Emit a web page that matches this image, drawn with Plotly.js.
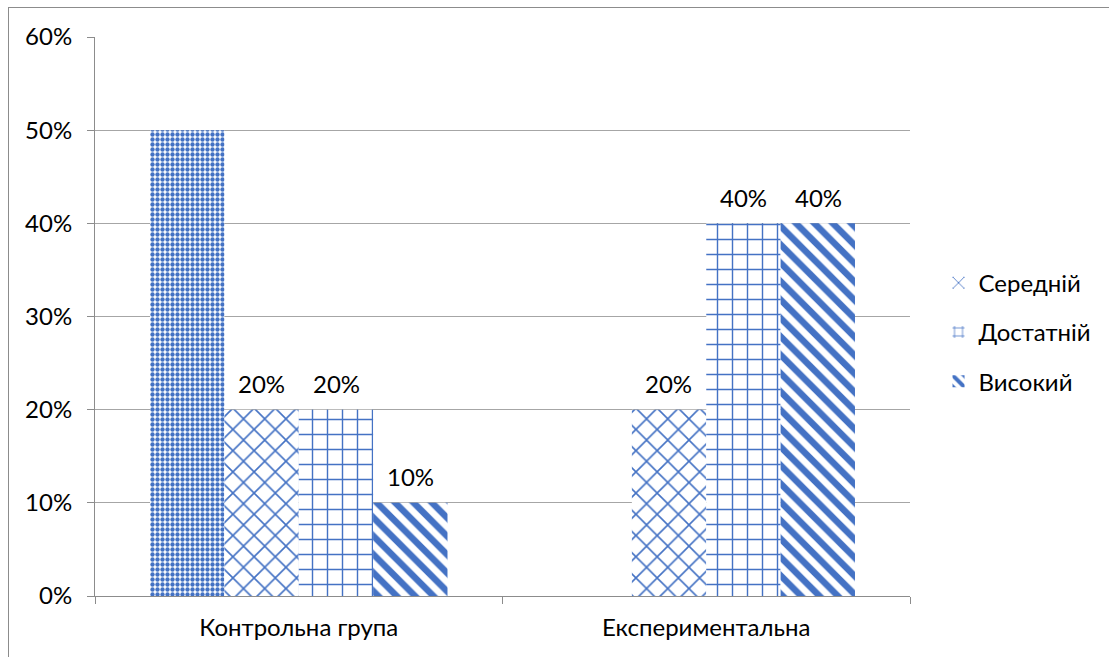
<!DOCTYPE html>
<html><head><meta charset="utf-8">
<script src="https://cdn.plot.ly/plotly-3.0.1.min.js"></script>
<style>
html,body{margin:0;padding:0;background:#fff;}
#frame{position:absolute;left:8px;top:7px;width:1300px;height:900px;border-left:1px solid #8c8c8c;border-top:1px solid #8c8c8c;pointer-events:none;z-index:10;}
#chart{width:1109px;height:657px;}
</style></head><body>
<div id="frame"></div>
<div id="chart"></div>
<script>
const categories = ['Контрольна група', 'Експериментальна'];
const seriesNames = ['Низький', 'Середній', 'Достатній', 'Високий'];
const valNyzkyi = [0.5, 0];
const valSerednii = [0.2, 0.2];
const valDostatnii = [0.2, 0.4];
const valVysokyi = [0.1, 0.4];
const showLabels = [false, true, true, true];
const blue = '#4472C4';
const fontFam = 'Lato, "Open Sans", sans-serif';
const fs = 24;

const W = 1109, H = 657, M = {l: 95, r: 197, t: 37, b: 61};
const bargap = 0.27;

const seriesVals = [valNyzkyi, valSerednii, valDostatnii, valVysokyi];
const patterns = [
  {shape: '.', size: 5, solidity: 0.6},
  {shape: 'x', size: 15, solidity: 0.2},
  {shape: '+', size: 15, solidity: 0.18},
  {shape: '\\', size: 13, solidity: 0.5}
];

const traces = seriesVals.map((vals, i) => ({
  type: 'bar', x: categories, y: vals, name: seriesNames[i], showlegend: i > 0,
  legendgroup: 'g' + i,
  marker: {color: '#ffffff', line: {width: 0},
    pattern: Object.assign({fgcolor: blue, bgcolor: '#ffffff', fillmode: 'overlay', fgopacity: 1}, patterns[i])},
  hoverinfo: 'none'
}));

// data labels placed via axis coordinates, shifted to each bar's slot in the group
const plotW = W - M.l - M.r;
const slotPx = plotW / categories.length * (1 - bargap) / seriesVals.length;
const annotations = [];
seriesVals.forEach((vals, i) => {
  if (!showLabels[i]) return;
  vals.forEach((v, j) => {
    if (v <= 0) return;
    annotations.push({x: categories[j], y: v, xref: 'x', yref: 'y',
      text: Math.round(v * 100) + '%', showarrow: false,
      xshift: (i - (seriesVals.length - 1) / 2) * slotPx, yshift: 26,
      font: {family: fontFam, size: fs, color: '#000'}});
  });
});

const layout = {
  width: W, height: H,
  margin: M,
  paper_bgcolor: '#ffffff', plot_bgcolor: '#ffffff',
  barmode: 'group', bargap: bargap, bargroupgap: 0,
  font: {family: fontFam, size: fs, color: '#000'},
  annotations: annotations,
  xaxis: {type: 'category', showline: true, linecolor: '#8c8c8c', linewidth: 1,
    ticks: 'outside', tickson: 'boundaries', ticklen: 7, tickcolor: '#8c8c8c',
    showgrid: false, ticklabelstandoff: 10, tickfont: {family: fontFam, size: fs, color: '#000'}},
  yaxis: {range: [0, 0.6], dtick: 0.1, tickformat: '.0%', showline: true,
    linecolor: '#8c8c8c', linewidth: 1, ticks: 'outside', ticklen: 7, tickcolor: '#8c8c8c',
    gridcolor: '#a6a6a6', gridwidth: 1, zeroline: false, ticklabelstandoff: 10,
    tickfont: {family: fontFam, size: fs, color: '#000'}},
  legend: {x: 1.035, xanchor: 'left', y: 0.472, yanchor: 'middle',
    font: {family: fontFam, size: fs, color: '#000'}, tracegroupgap: 15,
    traceorder: 'grouped', bgcolor: 'rgba(0,0,0,0)', itemwidth: 30}
};

Plotly.newPlot('chart', traces, layout, {displayModeBar: false, staticPlot: true});
</script>
</body></html>
